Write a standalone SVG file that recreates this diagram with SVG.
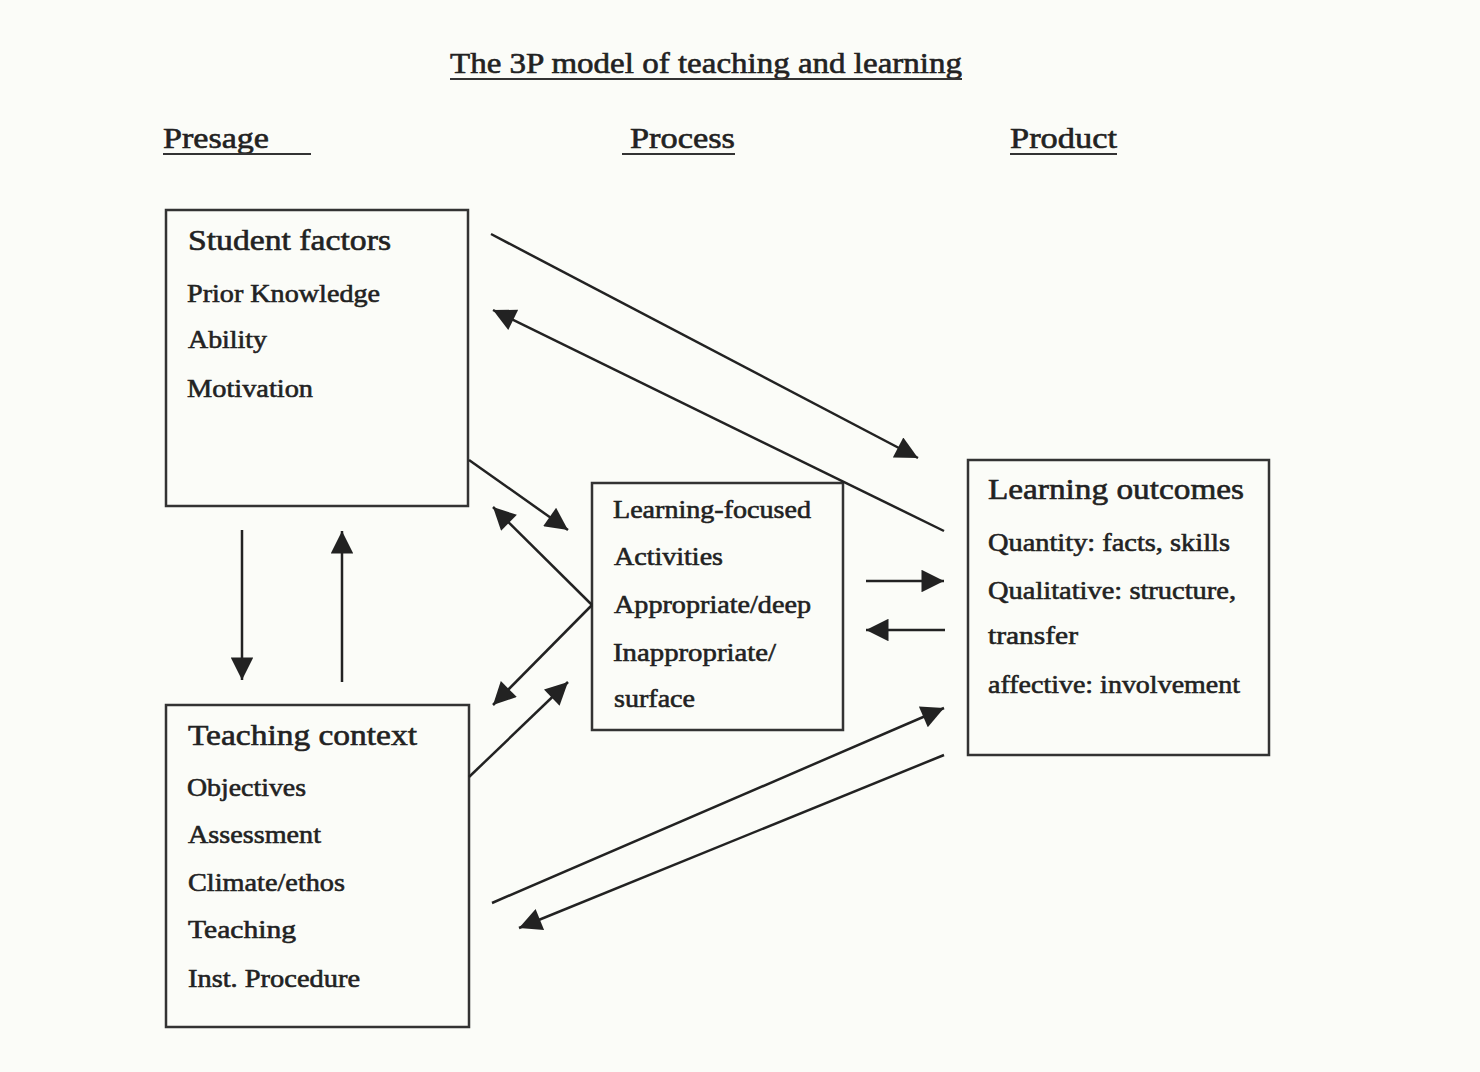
<svg xmlns="http://www.w3.org/2000/svg" width="1480" height="1072" viewBox="0 0 1480 1072">
<style>
text{font-family:"Liberation Serif","Times New Roman",serif;fill:#222;stroke:#222;stroke-width:0.6;}
.h{font-size:30px;}
.t{font-size:26px;}
.box{fill:none;stroke:#333;stroke-width:2.5;}
.ul{stroke:#333;stroke-width:2;}
.c{stroke:#222;stroke-width:2.5;fill:none;}
</style>
<defs>
<marker id="a" viewBox="0 0 10 10" refX="10" refY="5" markerWidth="10" markerHeight="9" orient="auto">
<path d="M0,0 L10,5 L0,10 z" fill="#222"/>
</marker>
</defs>
<rect width="1480" height="1072" fill="#fbfcf8"/>
<g id="title">
<text x="450" y="73" class="h" textLength="512" lengthAdjust="spacingAndGlyphs">The 3P model of teaching and learning</text>
<line x1="450" y1="79" x2="962" y2="79" class="ul"/>
</g>
<g id="headings">
<text x="163" y="148" class="h" textLength="106" lengthAdjust="spacingAndGlyphs">Presage</text>
<line x1="163" y1="154" x2="311" y2="154" class="ul"/>
<text x="630" y="148" class="h" textLength="105" lengthAdjust="spacingAndGlyphs">Process</text>
<line x1="622" y1="154" x2="735" y2="154" class="ul"/>
<text x="1010" y="148" class="h" textLength="107" lengthAdjust="spacingAndGlyphs">Product</text>
<line x1="1010" y1="154" x2="1117" y2="154" class="ul"/>
</g>
<g id="student-factors">
<rect x="166" y="210" width="302" height="296" class="box"/>
<text x="188" y="250" class="h" textLength="203" lengthAdjust="spacingAndGlyphs">Student factors</text>
<text x="187" y="302" class="t" textLength="193" lengthAdjust="spacingAndGlyphs">Prior Knowledge</text>
<text x="188" y="348" class="t" textLength="79" lengthAdjust="spacingAndGlyphs">Ability</text>
<text x="187" y="397" class="t" textLength="126" lengthAdjust="spacingAndGlyphs">Motivation</text>
</g>
<g id="teaching-context">
<rect x="166" y="705" width="303" height="322" class="box"/>
<text x="188" y="745" class="h" textLength="229" lengthAdjust="spacingAndGlyphs">Teaching context</text>
<text x="187" y="796" class="t" textLength="119" lengthAdjust="spacingAndGlyphs">Objectives</text>
<text x="188" y="843" class="t" textLength="133" lengthAdjust="spacingAndGlyphs">Assessment</text>
<text x="188" y="891" class="t" textLength="157" lengthAdjust="spacingAndGlyphs">Climate/ethos</text>
<text x="188" y="938" class="t" textLength="108" lengthAdjust="spacingAndGlyphs">Teaching</text>
<text x="188" y="987" class="t" textLength="172" lengthAdjust="spacingAndGlyphs">Inst. Procedure</text>
</g>
<g id="learning-activities">
<rect x="592" y="483" width="251" height="247" class="box"/>
<text x="613" y="518" class="t" textLength="198" lengthAdjust="spacingAndGlyphs">Learning-focused</text>
<text x="614" y="565" class="t" textLength="109" lengthAdjust="spacingAndGlyphs">Activities</text>
<text x="614" y="613" class="t" textLength="197" lengthAdjust="spacingAndGlyphs">Appropriate/deep</text>
<text x="613" y="661" class="t" textLength="163" lengthAdjust="spacingAndGlyphs">Inappropriate/</text>
<text x="614" y="707" class="t" textLength="81" lengthAdjust="spacingAndGlyphs">surface</text>
</g>
<g id="learning-outcomes">
<rect x="968" y="460" width="301" height="295" class="box"/>
<text x="988" y="499" class="h" textLength="256" lengthAdjust="spacingAndGlyphs">Learning outcomes</text>
<text x="988" y="551" class="t" textLength="242" lengthAdjust="spacingAndGlyphs">Quantity: facts, skills</text>
<text x="988" y="599" class="t" textLength="248" lengthAdjust="spacingAndGlyphs">Qualitative: structure,</text>
<text x="988" y="644" class="t" textLength="90" lengthAdjust="spacingAndGlyphs">transfer</text>
<text x="988" y="693" class="t" textLength="252" lengthAdjust="spacingAndGlyphs">affective: involvement</text>
</g>
<g id="connectors">
<line x1="491" y1="234" x2="918" y2="458" class="c" marker-end="url(#a)"/>
<line x1="944" y1="531" x2="493" y2="310" class="c" marker-end="url(#a)"/>
<line x1="469" y1="460" x2="568" y2="530" class="c" marker-end="url(#a)"/>
<line x1="592" y1="605" x2="493" y2="507" class="c" marker-end="url(#a)"/>
<line x1="592" y1="605" x2="493" y2="705" class="c" marker-end="url(#a)"/>
<line x1="469" y1="777" x2="568" y2="682" class="c" marker-end="url(#a)"/>
<line x1="866" y1="581" x2="944" y2="581" class="c" marker-end="url(#a)"/>
<line x1="945" y1="630" x2="866" y2="630" class="c" marker-end="url(#a)"/>
<line x1="492" y1="903" x2="944" y2="708" class="c" marker-end="url(#a)"/>
<line x1="944" y1="755" x2="519" y2="928" class="c" marker-end="url(#a)"/>
<line x1="242" y1="530" x2="242" y2="680" class="c" marker-end="url(#a)"/>
<line x1="342" y1="682" x2="342" y2="531" class="c" marker-end="url(#a)"/>
</g>
</svg>
